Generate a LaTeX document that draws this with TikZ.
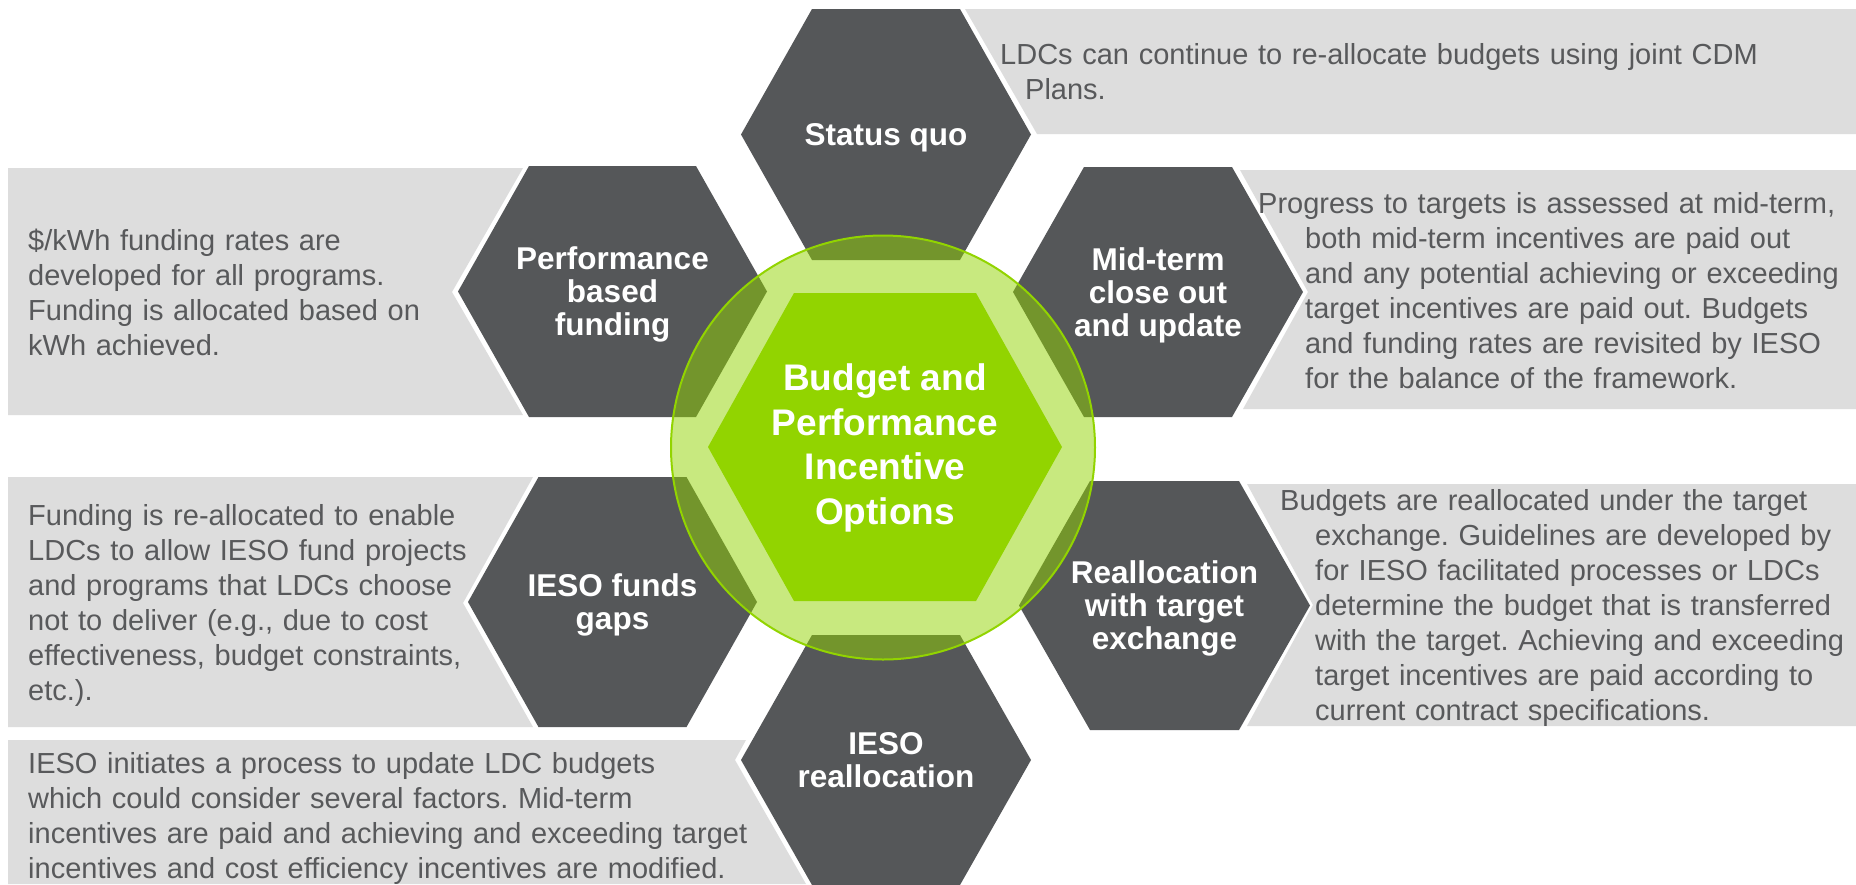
\documentclass[tikz,border=0pt]{standalone}
\usepackage{fontspec}
\setmainfont{Liberation Sans}
\setlength{\parindent}{0pt}
\frenchspacing
\definecolor{hexgray}{RGB}{85,87,89}
\definecolor{boxgray}{RGB}{221,221,221}
\definecolor{txtgray}{RGB}{88,89,91}
\definecolor{lime}{RGB}{146,212,0}
\newcommand{\hexfill}[6]{\fill[#1] ({#2-#4},#3) -- ({#2-#5},{#3-#6}) -- ({#2+#5},{#3-#6}) -- ({#2+#4},#3) -- ({#2+#5},{#3+#6}) -- ({#2-#5},{#3+#6}) -- cycle;}

\begin{document}
\begin{tikzpicture}[x=1pt,y=-1pt,
  hexlabel/.style={text=white,font=\fontsize{31.5}{33}\selectfont\bfseries,align=center,text depth=0pt,inner sep=0pt},
  boxtext/.style={text=txtgray,font=\fontsize{29}{35}\selectfont,align=left,anchor=north west,inner sep=0pt,text width=#1},
  boxtext/.default=760]
\useasboundingbox (0,0) rectangle (1856,884);
\fill[white] (0,0) rectangle (1856,884);

\fill[boxgray] (965,9) -- (1856,9) -- (1856,134) -- (1037,134) -- cycle;
\fill[boxgray] (1240,170) -- (1856,170) -- (1856,409) -- (1243,409) -- (1308,292) -- cycle;
\fill[boxgray] (1247,484) -- (1856,484) -- (1856,726) -- (1247,726) -- (1313,605) -- cycle;
\fill[boxgray] (8,168) -- (523,168) -- (452,292) -- (523,415) -- (8,415) -- cycle;
\fill[boxgray] (8,477) -- (533,477) -- (463,603) -- (533,727) -- (8,727) -- cycle;
\fill[boxgray] (8,740) -- (746,740) -- (735,760) -- (806,884) -- (8,884) -- cycle;

\hexfill{hexgray}{886}{134.5}{145}{74}{125.5}
\hexfill{hexgray}{612.5}{291.5}{154.5}{83.5}{125.5}
\hexfill{hexgray}{1158}{292}{145}{74}{125}
\hexfill{hexgray}{612.5}{602}{144.5}{74}{125}
\hexfill{hexgray}{1164.5}{605.5}{145.5}{74.5}{124.5}
\hexfill{hexgray}{886}{760}{145}{74}{125}

\draw[lime,line width=2pt,fill=lime,fill opacity=0.5] (883,447.5) circle (212);
\hexfill{lime}{885}{447}{177}{91}{154}

\node[hexlabel] (sq) at (886,134.5) {Status quo};
\node[hexlabel] (pbf) at (612.5,291.5) {Performance\\based\\funding};
\node[hexlabel] (mid) at (1158,292) {Mid-term\\close out\\and update};
\node[hexlabel] (gap) at (612.5,602) {IESO funds\\gaps};
\node[hexlabel] (rex) at (1164.5,605.5) {Reallocation\\with target\\exchange};
\node[hexlabel] (ire) at (886,760) {IESO\\reallocation};
\node[hexlabel,font=\fontsize{37}{44.5}\selectfont\bfseries] (bpio) at (885,444) {Budget and\\Performance\\Incentive\\Options};

\node[boxtext=820] (sqtxt) at (1025,43.5) {\hspace*{-25pt}LDCs can continue to re-allocate budgets using joint CDM\\Plans.};
\node[boxtext=600] (midtxt) at (1305,192) {\hspace*{-47pt}Progress to targets is assessed at mid-term,\\both mid-term incentives are paid out\\and any potential achieving or exceeding\\target incentives are paid out. Budgets\\and funding rates are revisited by IESO\\for the balance of the framework.};
\node[boxtext=600] (rextxt) at (1315,489.5) {\hspace*{-35pt}Budgets are reallocated under the target\\exchange. Guidelines are developed by\\for IESO facilitated processes or LDCs\\determine the budget that is transferred\\with the target. Achieving and exceeding\\target incentives are paid according to\\current contract specifications.};
\node[boxtext] (pbftxt) at (28,228.5) {\$/kWh funding rates are\\developed for all programs.\\Funding is allocated based on\\kWh achieved.};
\node[boxtext] (gaptxt) at (28,504) {Funding is re-allocated to enable\\LDCs to allow IESO fund projects\\and programs that LDCs choose\\not to deliver (e.g., due to cost\\effectiveness, budget constraints,\\etc.).};
\node[boxtext] (iretxt) at (28,752) {IESO initiates a process to update LDC budgets\\which could consider several factors. Mid-term\\incentives are paid and achieving and exceeding target\\incentives and cost efficiency incentives are modified.};
\end{tikzpicture}
\end{document}
